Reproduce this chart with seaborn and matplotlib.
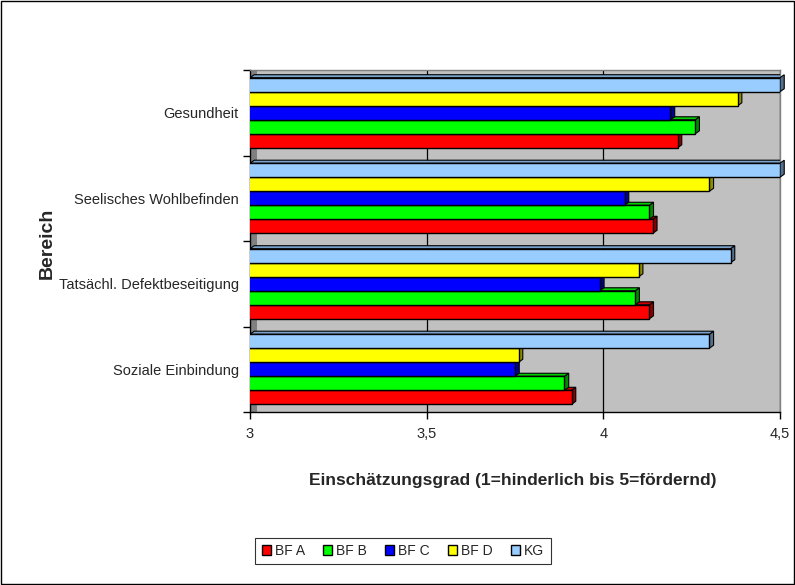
import numpy as np
import pandas as pd
import matplotlib
matplotlib.use("Agg")
import matplotlib.pyplot as plt
import seaborn as sns
from matplotlib.patches import Polygon, Rectangle
from matplotlib.colors import to_rgb
from matplotlib.ticker import FuncFormatter, FixedLocator

# Daten (von oben nach unten)
bereiche = ["Gesundheit", "Seelisches Wohlbefinden",
            "Tatsächl. Defektbeseitigung", "Soziale Einbindung"]
gruppen = ["BF A", "BF B", "BF C", "BF D", "KG"]
bf_a = [4.21, 4.14, 4.13, 3.91]
bf_b = [4.26, 4.13, 4.09, 3.89]
bf_c = [4.19, 4.06, 3.99, 3.75]
bf_d = [4.38, 4.30, 4.10, 3.76]
kg = [4.50, 4.50, 4.36, 4.30]
farben = {"BF A": "#FF0000", "BF B": "#00FF00", "BF C": "#0000FF",
          "BF D": "#FFFF00", "KG": "#99CCFF"}

df = pd.DataFrame({
    "Bereich": bereiche * 5,
    "Gruppe": np.repeat(gruppen, len(bereiche)),
    "Wert": bf_a + bf_b + bf_c + bf_d + kg,
})

sns.set_style("white")
plt.rcParams["font.family"] = ["Liberation Sans", "DejaVu Sans"]

fig = plt.figure(figsize=(7.95, 5.85), dpi=100)
ax = fig.add_axes([250 / 795, 1 - 412 / 585, 530 / 795, 342 / 585])
ax.set_facecolor("#C0C0C0")

sns.barplot(data=df, y="Bereich", x="Wert", hue="Gruppe", order=bereiche,
            hue_order=gruppen[::-1], palette=farben, saturation=1, orient="h",
            width=0.82, edgecolor="black", linewidth=1.0, ax=ax)

ax.set_xlim(3, 4.5)
ax.set_ylim(3.5, -0.5)

# pseudo-3D Flächen an den Balken
dx, dy = 0.012, 0.035
for p in list(ax.patches):
    x0, y0 = p.get_x(), p.get_y()
    w, h = p.get_width(), p.get_height()
    if w == 0:
        continue
    xe = x0 + w
    yc = y0 + h / 2
    z = 10 - yc
    p.set_zorder(z)
    c = np.array(to_rgb(p.get_facecolor()))
    end = Polygon([(xe, y0), (xe + dx, y0 - dy), (xe + dx, y0 + h - dy), (xe, y0 + h)],
                  closed=True, fc=c * 0.55, ec="black", lw=0.8, zorder=z - 0.01,
                  clip_on=False)
    top = Polygon([(3, y0), (3 + dx, y0 - dy), (xe + dx, y0 - dy), (xe, y0)],
                  closed=True, fc=c * 0.8, ec="black", lw=0.8, zorder=z - 0.01)
    ax.add_patch(end)
    ax.add_patch(top)

# Wandseite links
ax.add_patch(Rectangle((0, 0), 0.013, 1, transform=ax.transAxes,
                       fc="#808080", ec="none", zorder=0.6))

for v in [3.5, 4.0, 4.5]:
    ax.axvline(v, color="black", lw=0.9, zorder=0.5)

ax.xaxis.set_major_locator(FixedLocator([3, 3.5, 4, 4.5]))
ax.xaxis.set_major_formatter(FuncFormatter(lambda v, _: f"{v:g}".replace(".", ",")))
ax.set_yticks(range(len(bereiche)))
ax.set_yticklabels(bereiche)
ax.yaxis.set_minor_locator(FixedLocator(np.arange(-0.5, 4.0, 1.0)))
ax.tick_params(axis="y", which="major", length=0, pad=8, labelsize=10.5)
ax.tick_params(axis="y", which="minor", length=5, width=1, color="black", left=True)
ax.tick_params(axis="x", which="major", length=5, width=1, color="black",
               bottom=True, pad=6, labelsize=10.5)
ax.set_xlabel("")
ax.set_ylabel("")

for s in ["left", "bottom"]:
    ax.spines[s].set_color("black")
    ax.spines[s].set_linewidth(1)
for s in ["top", "right"]:
    ax.spines[s].set_color("#808080")
    ax.spines[s].set_linewidth(1)

fig.text(47 / 795, 1 - 243 / 585, "Bereich", rotation=90, ha="center", va="center",
         fontsize=14, fontweight="bold")
fig.text(513 / 795, 1 - 480 / 585, "Einschätzungsgrad (1=hinderlich bis 5=fördernd)",
         ha="center", va="center", fontsize=12.5, fontweight="bold")

# Legende
handles, labels = ax.get_legend_handles_labels()
lookup = dict(zip(labels, handles))
ax.get_legend().remove()
leg = fig.legend([lookup[g] for g in gruppen], gruppen, loc="center",
                 bbox_to_anchor=(403 / 795, 1 - 551 / 585), ncol=5, frameon=True,
                 fancybox=False, edgecolor="black", fontsize=10,
                 handlelength=0.65, handleheight=0.65, handletextpad=0.3,
                 columnspacing=1.3, borderpad=0.45)
leg.get_frame().set_linewidth(0.8)

fig.add_artist(Rectangle((0.001, 0.001), 0.998, 0.998, transform=fig.transFigure,
                         fill=False, ec="black", lw=1))

fig.savefig("out.png", dpi=100)
